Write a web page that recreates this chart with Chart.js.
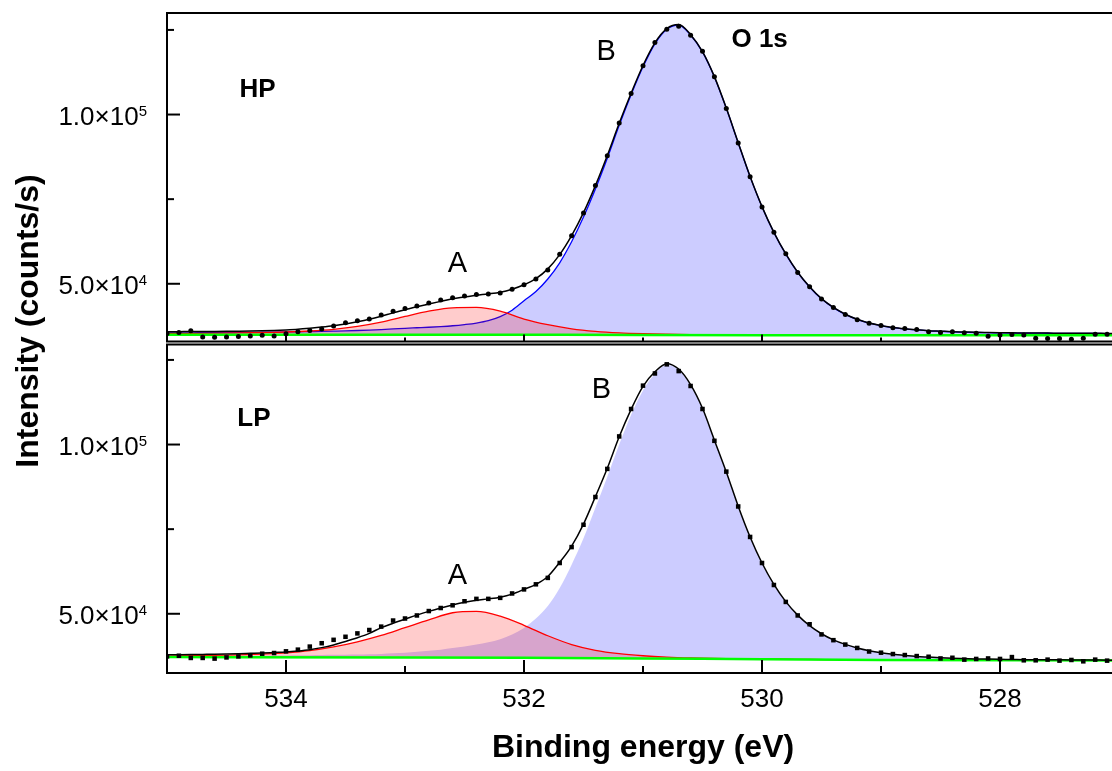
<!DOCTYPE html>
<html>
<head>
<meta charset="utf-8">
<script src="https://cdn.jsdelivr.net/npm/chart.js@4.4.1/dist/chart.umd.min.js"></script>
<style>
  html, body { margin: 0; padding: 0; background: #fff; overflow: hidden; }
  #wrap { position: relative; width: 1123px; height: 771px; }
</style>
</head>
<body>
<div id="wrap"><canvas id="myChart"></canvas></div>
<script>
const FONT = '"Liberation Sans", Arial, sans-serif';

// binding energy grid of the measured points (eV)
const energy = [
    535.0, 534.9, 534.8, 534.7, 534.6, 534.5, 534.4, 534.3, 534.2, 534.1,
    534.0, 533.9, 533.8, 533.7, 533.6, 533.5, 533.4, 533.3, 533.2, 533.1,
    533.0, 532.9, 532.8, 532.7, 532.6, 532.5, 532.4, 532.3, 532.2, 532.1,
    532.0, 531.9, 531.8, 531.7, 531.6, 531.5, 531.4, 531.3, 531.2, 531.1,
    531.0, 530.9, 530.8, 530.7, 530.6, 530.5, 530.4, 530.3, 530.2, 530.1,
    530.0, 529.9, 529.8, 529.7, 529.6, 529.5, 529.4, 529.3, 529.2, 529.1,
    529.0, 528.9, 528.8, 528.7, 528.6, 528.5, 528.4, 528.3, 528.2, 528.1,
    528.0, 527.9, 527.8, 527.7, 527.6, 527.5, 527.4, 527.3, 527.2, 527.1, 527.0
];
// coarser grid used for the broad A component
const energyCoarse = [
    535.0, 534.8, 534.6, 534.4, 534.2, 534.0, 533.8, 533.6, 533.4, 533.2,
    533.0, 532.8, 532.6, 532.4, 532.2, 532.0, 531.8, 531.6, 531.4, 531.2,
    531.0, 530.8, 530.6, 530.4, 530.2, 530.0, 529.8, 529.6, 529.4, 529.2,
    529.0, 528.8, 528.6, 528.4, 528.2, 528.0, 527.8, 527.6, 527.4, 527.2, 527.0
];
const bgEnergy = [535, 533, 532, 531, 530, 529, 527];

// HP sample
const hpCounts = [
    35300, 35600, 36100, 34300, 34200, 34300, 34400, 34600, 34800, 34600,
    35200, 35800, 36200, 36600, 37500, 38500, 39100, 39600, 40800, 41900,
    42700, 43400, 44300, 45200, 45900, 46400, 46800, 47000, 47300, 48400,
    49700, 51400, 54100, 58700, 64200, 70900, 79000, 87800, 97500, 106200,
    114400, 121300, 125200, 126100, 123400, 118700, 111200, 101800, 91600, 81600,
    72700, 65200, 58900, 53300, 49100, 45500, 43000, 40900, 39400, 38300,
    37700, 37000, 36800, 36500, 35800, 35600, 35800, 35500, 35400, 34500,
    34900, 35000, 34900, 33900, 33800, 33800, 33600, 33900, 35100, 35100, 35000
];
const hpFit = [
    35850, 35860, 35870, 35890, 35910, 35940, 35980, 36030, 36100, 36200,
    36350, 36550, 36850, 37200, 37600, 38100, 38750, 39500, 40400, 41400,
    42300, 43200, 44000, 44800, 45600, 46100, 46600, 47000, 47500, 48400,
    49700, 51500, 54400, 58600, 64200, 71000, 79000, 87900, 97400, 106300,
    114500, 121200, 125400, 126600, 123600, 118600, 111200, 101900, 91700, 81700,
    72800, 65200, 58800, 53400, 49100, 45600, 43000, 41000, 39500, 38400,
    37700, 37100, 36700, 36400, 36150, 36000, 35850, 35750, 35650, 35600,
    35550, 35500, 35480, 35450, 35430, 35400, 35380, 35360, 35350, 35340, 35330
];
const hpPeakB = [
    35500, 35510, 35520, 35540, 35560, 35580, 35610, 35640, 35680, 35720,
    35770, 35820, 35880, 35940, 36010, 36090, 36200, 36330, 36480, 36650,
    36850, 37000, 37150, 37350, 37600, 37950, 38400, 39100, 40300, 42200,
    45000, 47700, 51400, 56200, 62400, 69700, 78000, 87100, 96800, 105850,
    114100, 120900, 125200, 126450, 123500, 118500, 111100, 101850, 91650, 81650,
    72750, 65150, 58750, 53350, 49050, 45550, 42950, 40950, 39450, 38350,
    37650, 37050, 36650, 36350, 36100, 35950, 35800, 35700, 35600, 35550,
    35500, 35450, 35430, 35400, 35380, 35350, 35330, 35310, 35300, 35290, 35280
];
const hpPeakA = [
    35300, 35350, 35420, 35500, 35600, 35750, 36050, 36550, 37400, 38650,
    40350, 41900, 42900, 43000, 41900, 39550, 37900, 36700, 35950, 35500,
    35250, 35100, 35000, 34950, 34900, 34880, 34860, 34850, 34840, 34830,
    34820, 34815, 34810, 34810, 34805, 34805, 34800, 34800, 34800, 34800, 34800
];
const hpBackground = [34950, 34950, 34930, 34880, 34820, 34800, 34800];

// LP sample
const lpCounts = [
    37400, 37600, 36950, 36950, 36750, 37100, 37400, 37700, 38200, 38400,
    38900, 39400, 40300, 41300, 42300, 43200, 44200, 45200, 46200, 48000,
    48600, 49500, 50800, 51700, 52500, 53700, 54400, 54400, 54700, 56000,
    57200, 58700, 60600, 65000, 69700, 76300, 84500, 92800, 102400, 110500,
    117400, 121000, 123700, 121700, 117300, 110500, 101100, 92000, 81700, 72700,
    65000, 58500, 53500, 49500, 46900, 43900, 42200, 40900, 39900, 38850,
    38500, 38100, 37800, 37500, 37300, 36800, 37000, 36450, 36650, 36800,
    36650, 37200, 36250, 36250, 36450, 36150, 36350, 35950, 36450, 36150, 36300
];
const lpFit = [
    37900, 37920, 37950, 38000, 38050, 38120, 38200, 38300, 38400, 38550,
    38700, 39000, 39400, 40000, 40800, 41800, 42900, 44200, 45900, 47200,
    48400, 49600, 50700, 51700, 52600, 53400, 54000, 54400, 54900, 55800,
    57200, 58700, 61000, 65200, 70000, 76500, 84600, 93000, 102300, 110400,
    117200, 121500, 123900, 122300, 117700, 110700, 101300, 91900, 81800, 72700,
    65000, 58700, 53600, 49600, 46500, 44100, 42300, 40950, 39900, 39100,
    38500, 38050, 37700, 37400, 37200, 37000, 36850, 36750, 36650, 36600,
    36550, 36500, 36450, 36420, 36400, 36380, 36360, 36340, 36320, 36300, 36300
];
const lpPeakB = [
    37400, 37420, 37440, 37460, 37480, 37500, 37530, 37560, 37600, 37640,
    37680, 37720, 37770, 37820, 37870, 37920, 37980, 38050, 38150, 38300,
    38500, 38750, 39050, 39400, 39850, 40350, 40900, 41600, 42500, 43900,
    45800, 48600, 52300, 57600, 64500, 72300, 81300, 90500, 100000, 108800,
    116000, 120900, 123500, 122100, 117400, 110500, 101150, 91800, 81700, 72650,
    64950, 58650, 53550, 49550, 46450, 44050, 42250, 40900, 39850, 39050,
    38450, 38000, 37650, 37350, 37150, 36950, 36800, 36700, 36600, 36550,
    36500, 36450, 36400, 36370, 36350, 36330, 36310, 36290, 36270, 36250, 36250
];
const lpPeakA = [
    37500, 37600, 37700, 37850, 38100, 38450, 39100, 40200, 41700, 43600,
    45900, 48200, 50300, 50700, 49300, 46600, 43500, 40900, 39200, 38200,
    37600, 37200, 36950, 36800, 36700, 36650, 36580, 36500, 36450, 36400,
    36360, 36330, 36300, 36280, 36270, 36260, 36250, 36240, 36230, 36220, 36210
];
const lpBackground = [37200, 37100, 37000, 36800, 36550, 36350, 36200];

// axes
const xMajorTicks = [534, 532, 530, 528];
const xMinorTicks = [533, 531, 529];
const yMajorTicks = [50000, 100000];
const yMinorTicks = [75000, 125000];
const yTickBase = ['5.0×10', '1.0×10'];
const yTickExp = ['4', '5'];

// text notes placed in data coordinates
const notes = [
    { text: 'HP', e: 534.24, v: 107400, axis: 'yTop', bold: true, size: 26 },
    { text: 'O 1s', e: 530.02, v: 122200, axis: 'yTop', bold: true, size: 26 },
    { text: 'B', e: 531.31, v: 118600, axis: 'yTop', bold: false, size: 29 },
    { text: 'A', e: 532.56, v: 55900, axis: 'yTop', bold: false, size: 29 },
    { text: 'LP', e: 534.27, v: 107700, axis: 'yBot', bold: true, size: 26 },
    { text: 'B', e: 531.35, v: 116000, axis: 'yBot', bold: false, size: 29 },
    { text: 'A', e: 532.56, v: 61200, axis: 'yBot', bold: false, size: 29 }
];

const pairs = (xs, ys) => xs.map((x, i) => ({ x: x, y: ys[i] }));

const lineSet = (data, axis, color, width, order, extra) => Object.assign({
    data: data,
    yAxisID: axis,
    borderColor: color,
    borderWidth: width,
    pointRadius: 0,
    cubicInterpolationMode: 'monotone',
    fill: false,
    order: order
}, extra || {});

const datasets = [
    // 0..4 : HP
    { data: pairs(energy, hpCounts), yAxisID: 'yTop', showLine: false, pointStyle: 'circle',
      pointRadius: 2.5, pointBorderWidth: 0, pointBackgroundColor: '#000', order: 0 },
    lineSet(pairs(energy, hpFit), 'yTop', '#000', 1.5, 1),
    lineSet(pairs(energy, hpPeakB), 'yTop', 'rgb(0,0,255)', 1.3, 4,
        { fill: 4, backgroundColor: 'rgba(0,0,255,0.2)' }),
    lineSet(pairs(energyCoarse, hpPeakA), 'yTop', 'rgb(255,0,0)', 1.3, 3,
        { fill: 4, backgroundColor: 'rgba(255,0,0,0.2)' }),
    lineSet(pairs(bgEnergy, hpBackground), 'yTop', 'rgb(0,255,0)', 2.5, 2),
    // 5..9 : LP
    { data: pairs(energy, lpCounts), yAxisID: 'yBot', showLine: false, pointStyle: 'rect',
      pointRadius: 3.2, pointBorderWidth: 0, pointBackgroundColor: '#000', order: 0 },
    lineSet(pairs(energy, lpFit), 'yBot', '#000', 1.5, 1),
    lineSet(pairs(energy, lpPeakB), 'yBot', 'rgba(0,0,255,0)', 0, 4,
        { fill: 9, backgroundColor: 'rgba(0,0,255,0.2)' }),
    lineSet(pairs(energyCoarse, lpPeakA), 'yBot', 'rgb(255,0,0)', 1.3, 3,
        { fill: 9, backgroundColor: 'rgba(255,0,0,0.2)' }),
    lineSet(pairs(bgEnergy, lpBackground), 'yBot', 'rgb(0,255,0)', 2.5, 2)
];

const yAxis = () => ({
    type: 'linear',
    position: 'left',
    stack: 'panels',
    stackWeight: 1,
    min: 32500,
    max: 130000,
    afterBuildTicks: (s) => { s.ticks = yMajorTicks.map((v) => ({ value: v })); },
    afterFit: (s) => { s.width = 167; s.paddingTop = 0; s.paddingBottom = 0; },
    ticks: { display: false },
    grid: { drawOnChartArea: false, drawTicks: false },
    border: { display: false }
});

const decorations = {
    id: 'decorations',
    afterDraw(chart) {
        const { ctx, chartArea, scales } = chart;
        const x = scales.x;
        const left = chartArea.left;
        const right = chartArea.right + 5;
        ctx.save();
        ctx.strokeStyle = '#000';
        ctx.lineWidth = 2;
        const seg = (x1, y1, x2, y2) => {
            ctx.beginPath(); ctx.moveTo(x1, y1); ctx.lineTo(x2, y2); ctx.stroke();
        };
        const panels = [
            { y: scales.yTop, top: scales.yTop.top, bottom: scales.yTop.bottom - 1.5, major: 7, minor: 4 },
            { y: scales.yBot, top: scales.yBot.top + 1.5, bottom: scales.yBot.bottom, major: 13, minor: 7 }
        ];
        ctx.fillStyle = '#000';
        panels.forEach((p) => {
            ctx.beginPath();
            ctx.moveTo(right, p.top);
            ctx.lineTo(left, p.top);
            ctx.lineTo(left, p.bottom);
            ctx.lineTo(right, p.bottom);
            ctx.stroke();
            yMajorTicks.forEach((v) => { const py = p.y.getPixelForValue(v); seg(left, py, left + 13, py); });
            yMinorTicks.forEach((v) => { const py = p.y.getPixelForValue(v); seg(left, py, left + 7, py); });
            xMajorTicks.forEach((v) => { const px = x.getPixelForValue(v); seg(px, p.bottom, px, p.bottom - p.major); });
            xMinorTicks.forEach((v) => { const px = x.getPixelForValue(v); seg(px, p.bottom, px, p.bottom - p.minor); });

            // y tick labels with a real superscript
            yMajorTicks.forEach((v, i) => {
                const py = p.y.getPixelForValue(v);
                ctx.textAlign = 'right';
                ctx.textBaseline = 'alphabetic';
                ctx.font = '15px ' + FONT;
                const expW = ctx.measureText(yTickExp[i]).width;
                ctx.fillText(yTickExp[i], left - 20, py + 1);
                ctx.font = '26px ' + FONT;
                ctx.fillText(yTickBase[i], left - 20 - expW, py + 10);
            });
        });

        ctx.textAlign = 'center';
        ctx.textBaseline = 'middle';
        notes.forEach((n) => {
            ctx.font = (n.bold ? 'bold ' : '') + n.size + 'px ' + FONT;
            ctx.fillText(n.text, x.getPixelForValue(n.e), scales[n.axis].getPixelForValue(n.v));
        });

        // shared y title
        ctx.save();
        ctx.translate(29, 321);
        ctx.rotate(-Math.PI / 2);
        ctx.font = 'bold 32px ' + FONT;
        ctx.fillText('Intensity (counts/s)', 0, 0);
        ctx.restore();
        ctx.restore();
    }
};

const config = {
    type: 'line',
    data: { datasets: datasets },
    options: {
        responsive: true,
        maintainAspectRatio: false,
        animation: false,
        layout: { padding: { top: 13, left: 0, right: 0, bottom: 0 } },
        plugins: { legend: { display: false }, tooltip: { enabled: false } },
        scales: {
            x: {
                type: 'linear',
                position: 'bottom',
                reverse: true,
                min: 527,
                max: 535,
                afterBuildTicks: (s) => { s.ticks = xMajorTicks.map((v) => ({ value: v })); },
                afterFit: (s) => { s.height = 98; s.paddingLeft = 0; s.paddingRight = 0; },
                ticks: {
                    callback: (v) => String(v),
                    font: { family: FONT, size: 26 },
                    color: '#000',
                    padding: 11
                },
                grid: { drawOnChartArea: false, drawTicks: false },
                border: { display: false },
                title: {
                    display: true,
                    text: 'Binding energy (eV)',
                    font: { family: FONT, size: 32, weight: 'bold' },
                    color: '#000',
                    padding: { top: 0, bottom: 4 }
                }
            },
            yBot: yAxis(),
            yTop: yAxis()
        }
    },
    plugins: [decorations]
};

const myChart = new Chart(document.getElementById('myChart'), config);
</script>
</body>
</html>
